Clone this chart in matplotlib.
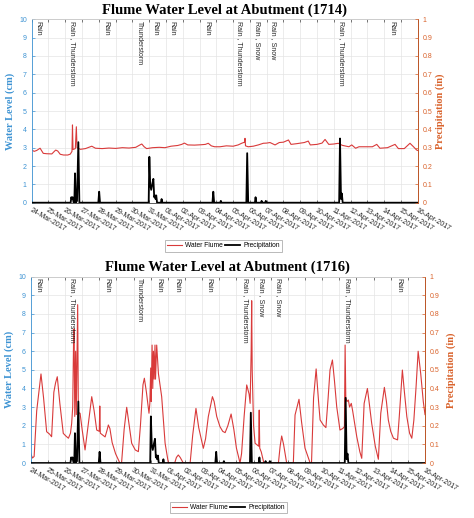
import matplotlib
matplotlib.use('Agg')
import matplotlib.pyplot as plt
import pandas as pd

# ---------------- data ----------------
dates = pd.date_range('2017-03-24', '2017-04-16', freq='D')
tick_labels = [d.strftime('%d-%b-%Y') for d in dates]

# precipitation (in), time in days from 24-Mar-2017 00:00
precip_t = [0, 2.32, 2.36, 2.40, 2.44, 2.50, 2.54, 2.58, 2.63, 2.70, 2.78, 2.84,
            3.97, 4.02, 4.07,
            6.97, 7.01, 7.06, 7.12, 7.18, 7.25, 7.30, 7.34, 7.38, 7.42, 7.47, 7.70, 7.74, 7.78,
            10.77, 10.82, 10.87, 11.23, 11.27, 11.31,
            12.79, 12.84, 12.90, 13.30, 13.34, 13.38, 13.66, 13.70, 13.74, 13.91, 13.95, 13.99,
            18.32, 18.37, 18.43, 18.48, 18.53, 23]
precip_v = [0, 0, 0.03, 0.02, 0.03, 0.0, 0.0, 0.16, 0.0, 0.01, 0.33, 0.0,
            0, 0.06, 0,
            0, 0.25, 0.10, 0.07, 0.10, 0.13, 0.03, 0.04, 0.02, 0.04, 0, 0, 0.02, 0,
            0, 0.06, 0, 0, 0.01, 0,
            0, 0.27, 0, 0, 0.03, 0, 0, 0.01, 0, 0, 0.01, 0,
            0, 0.35, 0.02, 0.05, 0, 0]

# Water flume level (cm) at 1714
flume1714_t = [0.0, 0.15, 0.3, 0.5, 0.69, 0.9, 1.2, 1.35, 1.43, 1.55, 1.7, 1.9, 2.15, 2.3, 2.4,
               2.43, 2.46, 2.6, 2.66, 2.7, 2.9, 3.2, 3.58, 3.8, 4.2, 4.6, 5.0, 5.4, 5.8, 6.2,
               6.45, 6.56, 6.7, 6.85, 7.2, 7.6, 7.94, 8.3, 8.7, 8.94, 9.1, 9.3, 9.7, 10.1,
               10.35, 10.52, 10.7, 10.9, 11.22, 11.6, 12.0, 12.3, 12.51, 12.68, 12.71, 12.74,
               12.9, 13.2, 13.5, 13.8, 14.0, 14.2, 14.5, 14.75, 15.0, 15.3, 15.45, 15.8,
               16.24, 16.48, 16.6, 17.0, 17.3, 17.48, 17.7, 18.0, 18.27, 18.5, 18.9, 19.07,
               19.3, 19.5, 19.9, 20.3, 20.56, 20.75, 21.2, 21.65, 21.85, 22.2, 22.54, 22.75,
               22.94, 23.0]
flume1714_v = [2.87, 2.8, 2.85, 2.97, 2.69, 2.67, 2.66, 2.8, 2.87, 2.82, 2.64, 2.6, 2.6, 2.65, 2.8,
               4.24, 2.9, 2.95, 4.14, 3.0, 2.91, 2.95, 3.08, 2.97, 2.95, 2.98, 2.96, 3.0, 2.98, 3.02,
               3.15, 3.2, 3.05, 2.95, 3.0, 3.02, 3.0, 3.08, 3.12, 3.18, 3.25, 3.15, 3.14, 3.16,
               3.18, 3.24, 3.1, 3.05, 3.05, 3.1, 3.08, 3.15, 3.24, 3.3, 3.51, 3.1,
               3.05, 3.08, 3.15, 3.24, 3.25, 3.28, 3.15, 3.28, 3.3, 3.42, 3.18, 3.22,
               3.28, 3.36, 3.15, 3.18, 3.25, 3.45, 3.18, 3.2, 3.24, 3.13, 3.05, 3.15,
               2.97, 3.05, 3.05, 3.05, 3.18, 2.97, 3.0, 3.18, 2.95, 2.95, 3.24, 3.05,
               2.87, 2.85]

# Water flume level (cm) at 1716
flume1716_t = [0.0, 0.10, 0.20, 0.35, 0.60, 0.75, 0.93, 1.10, 1.22, 1.35, 1.45, 1.55, 1.70, 1.90,
               2.05, 2.20, 2.32, 2.39, 2.45, 2.50, 2.53, 2.57, 2.62, 2.66, 2.74, 2.78, 2.88,
               3.0, 3.17, 3.35, 3.56, 3.7, 3.85, 4.0, 4.03, 4.06, 4.34, 4.45, 4.53, 4.62, 4.75,
               4.95, 5.2, 5.3, 5.45, 5.6, 5.72, 5.89, 6.1, 6.28, 6.4, 6.55, 6.63, 6.75, 6.9,
               6.95, 7.0, 7.03, 7.08, 7.12, 7.16, 7.2, 7.25, 7.28, 7.35, 7.45, 7.64, 7.84, 8.03,
               8.4, 8.5, 8.61, 8.72, 8.9, 9.3, 9.45, 9.64, 9.8, 10.07, 10.2, 10.36, 10.6, 10.7,
               10.85, 11.04, 11.2, 11.34, 11.5, 11.69, 11.85, 12.0, 12.21, 12.3, 12.45, 12.6,
               12.74, 12.8, 12.86, 12.89, 12.92, 13.0, 13.09, 13.3, 13.33, 13.36, 13.45, 13.6,
               14.45, 14.55, 14.64, 14.75, 14.93, 15.32, 15.42, 15.65, 15.8, 16.0, 16.3, 16.38,
               16.5, 16.65, 16.8, 16.88, 17.07, 17.22, 17.35, 17.46, 17.6, 17.72, 17.85, 18.04,
               18.2, 18.3, 18.34, 18.38, 18.45, 18.53, 18.6, 18.7, 18.78, 19.02, 19.2, 19.31,
               19.45, 19.64, 19.75, 19.89, 20.1, 20.28, 20.42, 20.63, 20.75, 20.86, 21.0, 21.16,
               21.4, 21.5, 21.68, 21.8, 21.94, 22.1, 22.23, 22.35, 22.48, 22.6, 22.75, 22.9, 23.0]
flume1716_v = [0.52, 0.27, 0.35, 2.8, 4.78, 3.5, 1.68, 1.55, 1.41, 3.8, 4.3, 4.63, 3.2, 1.59,
               1.45, 1.33, 1.6, 2.13, 3.0, 6.5, 7.2, 2.5, 6.0, 2.6, 8.5, 2.7, 2.67,
               1.8, 0.7, 2.0, 3.56, 2.8, 1.77, 1.7, 3.06, 1.6, 1.4, 1.75, 2.04, 1.85, 1.1,
               0.5, 0.0, 0.0, 1.8, 2.99, 2.2, 1.06, 0.7, 0.61, 2.0, 4.2, 4.55, 3.8, 2.67,
               3.2, 5.1, 3.3, 6.33, 4.0, 6.0, 4.5, 6.33, 4.5, 6.33, 4.8, 3.56, 1.06, 0.0,
               0.0, 0.3, 0.43, 0.3, 0.0, 0.0, 1.5, 2.93, 1.9, 0.79, 1.3, 2.49, 3.56, 3.3,
               2.5, 1.95, 1.7, 1.63, 2.0, 2.63, 1.8, 0.8, 0.0, 0.5, 2.5, 4.19,
               3.7, 3.2, 6.0, 8.71, 5.0, 2.0, 1.06, 0.9, 2.84, 0.8, 0.59, 0.0,
               0.0, 0.9, 1.45, 1.0, 0.0, 0.0, 2.58, 3.42, 2.2, 0.8, 0.0, 0.0,
               3.5, 5.05, 3.2, 2.31, 2.04, 1.9, 3.5, 5.0, 5.53, 4.4, 3.02, 1.77,
               1.85, 1.95, 6.33, 3.5, 3.3, 3.38, 3.0, 3.2, 2.8, 1.41, 0.6, 0.25,
               3.2, 4.0, 3.2, 2.13, 0.9, 0.2, 2.67, 4.06, 3.3, 2.31, 1.7, 1.33,
               1.24, 2.5, 4.99, 3.8, 2.49, 1.6, 1.33, 2.3, 4.1, 6.0, 4.8, 3.3, 2.6]

# event annotations (position in days, text)
events1714_t = [0.375, 2.40, 4.43, 6.39, 7.35, 8.36, 10.45, 12.36, 13.43, 14.38, 18.43, 21.47]
events1716_t = [0.44, 2.45, 4.43, 6.36, 7.50, 8.52, 10.42, 12.50, 13.48, 14.47, 18.47, 21.45]
event_labels = ['Rain', 'Rain , Thunderstorm', 'Rain', 'Thunderstorm', 'Rain', 'Rain', 'Rain',
                'Rain , Thunderstorm', 'Rain , Snow', 'Rain , Snow', 'Rain , Thunderstorm', 'Rain']

titles = ['Flume Water Level at Abutment (1714)', 'Flume Water Level at Abutment (1716)']

# ---------------- style ----------------
RED = '#d93a3a'
BLUE = '#3d93d3'
ORANGE = '#d9622b'
GRID = '#e4e4e4'
SERIF = ['Liberation Serif', 'DejaVu Serif']
SANS = ['Liberation Sans', 'DejaVu Sans']

W, H = 474, 518
fig = plt.figure(figsize=(W / 100, H / 100), dpi=100)


def px_rect(x0, y0, x1, y1):
    return [x0 / W, 1 - y1 / H, (x1 - x0) / W, (y1 - y0) / H]


def panel(rect, ft, fv, ev_t, title, title_xy, leg_xy, rlabel_x):
    ax = fig.add_axes(rect)
    ax.set_xlim(0, 23)
    ax.set_ylim(0, 10)
    ax.set_xticks(range(len(tick_labels)))
    ax.set_xticklabels(tick_labels, rotation=-30, ha='left', va='top',
                       rotation_mode='anchor', fontsize=5, family=SANS, color='#262626')
    ax.set_yticks(range(11))
    ax.tick_params(axis='y', colors=BLUE, labelsize=5, direction='in', length=2, width=0.5)
    ax.tick_params(axis='x', direction='in', length=2, width=0.5, top=True, pad=3,
                   colors='#444444', labelcolor='#262626')
    for lab in ax.get_yticklabels():
        lab.set_family(SANS)
    ax.grid(True, color=GRID, lw=0.5)
    ax.set_axisbelow(True)
    ax.spines['left'].set_color(BLUE)
    ax.spines['top'].set_color('#c8c8c8')
    ax.spines['bottom'].set_color('#444444')
    for s in ax.spines.values():
        s.set_linewidth(0.6)
    ax.set_ylabel('Water Level (cm)', color=BLUE, fontsize=7.5, fontweight='bold', family=SERIF)
    ax.yaxis.set_label_coords(-0.042, 0.5)

    h1, = ax.plot(ft, fv, color=RED, lw=0.8, label='Water Flume')

    ax2 = ax.twinx()
    ax2.set_ylim(0, 1)
    ax2.set_yticks([i / 10 for i in range(11)])
    ax2.set_yticklabels(['0'] + ['%.1f' % (i / 10) for i in range(1, 10)] + ['1'])
    ax2.tick_params(axis='y', colors=ORANGE, labelsize=5, direction='in', length=2, width=0.5)
    for lab in ax2.get_yticklabels():
        lab.set_family(SANS)
    ax2.spines['right'].set_color(ORANGE)
    ax2.spines['left'].set_visible(False)
    ax2.spines['top'].set_visible(False)
    ax2.spines['bottom'].set_visible(False)
    ax2.spines['right'].set_linewidth(0.6)
    ax2.set_ylabel('Precipitation (in)', color=ORANGE, fontsize=7.5, fontweight='bold',
                   family=SERIF, rotation=90)
    ax2.yaxis.set_label_coords(rlabel_x, 0.5)
    h2, = ax2.plot(precip_t, precip_v, color='black', lw=1.3, label='Precipitation')

    for t, s in zip(ev_t, event_labels):
        ax.text(t, 9.93, s, rotation=-90, ha='center', va='top', fontsize=5,
                family=SANS, color='#262626')

    fig.text(title_xy[0] / W, 1 - title_xy[1] / H, title, ha='center', va='center',
             fontsize=10.5, fontweight='bold', family=SERIF)
    leg = fig.legend([h1, h2], ['Water Flume', 'Precipitation'], loc='center',
                     bbox_to_anchor=(leg_xy[0] / W, 1 - leg_xy[1] / H), ncol=2,
                     frameon=True, fancybox=False, handlelength=2.2,
                     handletextpad=0.5, columnspacing=0.3, borderpad=0.35,
                     prop={'family': SANS, 'size': 4.8})
    leg.get_frame().set_edgecolor('#9a9a9a')
    leg.get_frame().set_linewidth(0.6)
    return ax


panel(px_rect(31.7, 19.3, 417.7, 202.7), flume1714_t, flume1714_v, events1714_t,
      titles[0], (224.5, 10.5), (223.5, 246), 1.045)
panel(px_rect(30.7, 276.7, 425, 463), flume1716_t, flume1716_v, events1716_t,
      titles[1], (227.8, 267.5), (228.5, 507.5), 1.055)

fig.savefig('out.png', dpi=100)
